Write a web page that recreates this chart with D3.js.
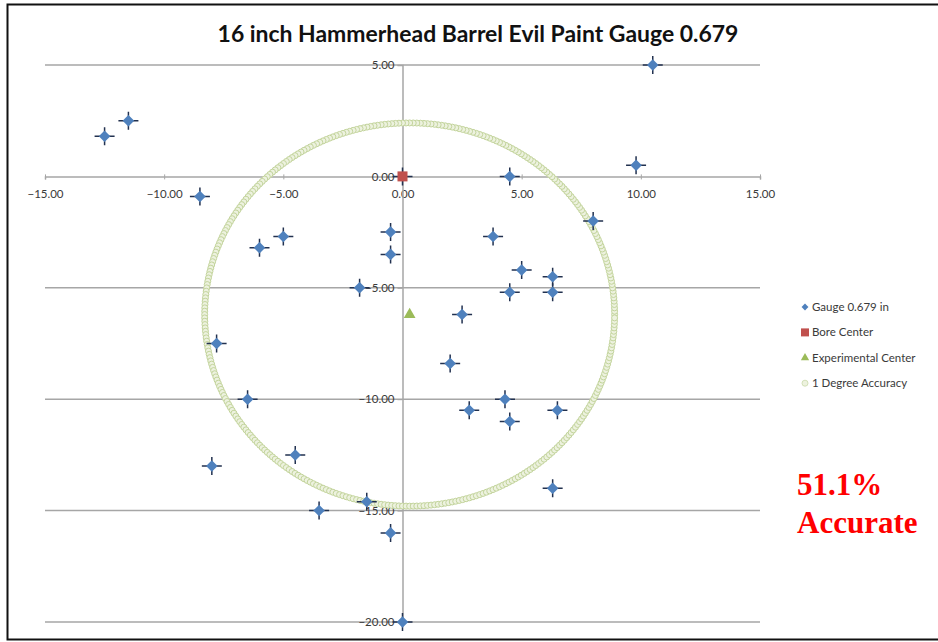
<!DOCTYPE html>
<meta charset="utf-8">
<style>
body { margin: 0; background: white; }
text { font-family: Lato, "Open Sans", sans-serif; }
</style>
<body>
<script src="https://d3js.org/d3.v7.min.js"></script>
<script>

// gauge 0.679 in shots (inches)
var gaugeX = [-12.5, -11.5, -8.5, -6.0, -5.0, -0.5, -0.5, 10.5, 9.8, 4.5, 8.0, 3.8,
              5.0, 6.3, 4.5, 6.3, 2.5, 2.0, 4.3, 2.8, 4.5, 6.5, -1.8, -7.8,
              -6.5, -4.5, -8.0, -3.5, -1.5, -0.5, 0.0, 6.3];
var gaugeY = [1.8, 2.5, -0.9, -3.2, -2.7, -2.5, -3.5, 5.0, 0.5, 0.0, -2.0, -2.7,
              -4.2, -4.5, -5.2, -5.2, -6.2, -8.4, -10.0, -10.5, -11.0, -10.5, -5.0, -7.5,
              -10.0, -12.5, -13.0, -15.0, -14.6, -16.0, -20.0, -14.0];

var boreCenter = [0, 0];
var expCenter = [0.3, -6.2];
var ringRadius = 8.6;
var ringMarkers = 360;

var xTicks = [-15, -10, -5, 0, 5, 10, 15];
var yTicks = [5, 0, -5, -10, -15, -20];

var legendLabels = ["Gauge 0.679 in", "Bore Center", "Experimental Center", "1 Degree Accuracy"];

var width = 938,
    height = 642;

var svg = d3.select("body").append("svg")
    .attr("width", width)
    .attr("height", height);

// outer frame
svg.append("rect")
    .attr("x", 7.5).attr("y", 4.5)
    .attr("width", 960).attr("height", 635)
    .attr("fill", "white")
    .attr("stroke", "#111")
    .attr("stroke-width", 2);

var x = d3.scaleLinear().domain([-15, 15]).range([45, 760]);
var y = d3.scaleLinear().domain([-20, 5]).range([622, 65]);

var grid = "#a6a6a6";

// horizontal gridlines
svg.append("g").selectAll("line")
    .data(yTicks.filter(function(d) { return d !== 0; }))
    .enter().append("line")
    .attr("x1", x(-15)).attr("x2", x(15))
    .attr("y1", function(d) { return y(d); })
    .attr("y2", function(d) { return y(d); })
    .attr("stroke", grid)
    .attr("stroke-width", 1.5);

// x axis through y=0
var xAxis = svg.append("g")
    .attr("transform", "translate(0," + y(0) + ")")
    .call(d3.axisBottom(x).tickValues(xTicks).tickSize(3).tickFormat(d3.format(".2f")));
xAxis.select(".domain").attr("stroke", grid).attr("stroke-width", 1.5);
xAxis.selectAll(".tick line").attr("stroke", grid).attr("y1", -2).attr("y2", 3);
xAxis.selectAll(".tick text")
    .attr("y", 13)
    .attr("fill", "#3a3a3a")
    .style("font-size", "11.5px")
    .style("font-family", "Lato, sans-serif");

// y axis through x=0
var yAxis = svg.append("g")
    .attr("transform", "translate(" + x(0) + ",0)")
    .call(d3.axisLeft(y).tickValues(yTicks).tickSize(5).tickFormat(d3.format(".2f")));
yAxis.select(".domain").attr("stroke", grid).attr("stroke-width", 1.5);
yAxis.selectAll(".tick line").attr("stroke", grid);
yAxis.selectAll(".tick text")
    .attr("x", -8)
    .attr("fill", "#3a3a3a")
    .style("font-size", "11.5px")
    .style("font-family", "Lato, sans-serif");

// 1 degree accuracy ring of markers
var ring = d3.range(ringMarkers).map(function(i) {
    var a = i / ringMarkers * 2 * Math.PI;
    return [expCenter[0] + ringRadius * Math.cos(a), expCenter[1] + ringRadius * Math.sin(a)];
});
svg.append("g").selectAll("circle")
    .data(ring)
    .enter().append("circle")
    .attr("cx", function(d) { return x(d[0]); })
    .attr("cy", function(d) { return y(d[1]); })
    .attr("r", 3)
    .attr("fill", "#edf2df")
    .attr("stroke", "#c3d49c")
    .attr("stroke-width", 1);

// gauge shots: error cross + diamond
var shots = gaugeX.map(function(d, i) { return [d, gaugeY[i]]; });
var sg = svg.append("g").selectAll("g")
    .data(shots)
    .enter().append("g")
    .attr("transform", function(d) { return "translate(" + x(d[0]) + "," + y(d[1]) + ")"; });
sg.append("path")
    .attr("d", "M-10,0H10M0,-9V9")
    .attr("stroke", "#22314f")
    .attr("stroke-width", 1.5);
sg.append("path")
    .attr("d", d3.symbol(d3.symbolDiamond2, 85))
    .attr("fill", "#4f81bd");

// bore center
var bc = svg.append("g")
    .attr("transform", "translate(" + x(boreCenter[0]) + "," + y(boreCenter[1]) + ")");
bc.append("path")
    .attr("d", "M-10,0H10M0,-9V9")
    .attr("stroke", "#22314f")
    .attr("stroke-width", 1.5);
bc.append("rect")
    .attr("x", -5).attr("y", -5).attr("width", 10).attr("height", 10)
    .attr("fill", "#c0504d");

// experimental center
svg.append("path")
    .attr("transform", "translate(" + x(expCenter[0]) + "," + y(expCenter[1]) + ")")
    .attr("d", d3.symbol(d3.symbolTriangle, 60))
    .attr("fill", "#9bbb59");

// title
var title = svg.append("text")
    .attr("x", 478).attr("y", 42)
    .attr("text-anchor", "middle")
    .attr("fill", "#111")
    .style("font-size", "19px")
    .style("font-weight", "bold")
    .text("16 inch Hammerhead Barrel Evil Paint Gauge 0.679");
var tw = title.node().getComputedTextLength();
title.style("font-size", (19 * 521 / tw).toFixed(2) + "px");

// legend
var lg = svg.append("g").attr("transform", "translate(805,307)");
var items = lg.selectAll("g")
    .data(legendLabels)
    .enter().append("g")
    .attr("transform", function(d, i) { return "translate(0," + i * 25.4 + ")"; });
items.append("text")
    .attr("x", 7).attr("dy", "0.35em")
    .attr("fill", "#3a3a3a")
    .style("font-size", "11.5px")
    .text(function(d) { return d; });
items.filter(function(d, i) { return i === 0; }).append("path")
    .attr("d", d3.symbol(d3.symbolDiamond2, 30)).attr("fill", "#4f81bd");
items.filter(function(d, i) { return i === 1; }).append("rect")
    .attr("x", -4).attr("y", -4).attr("width", 8).attr("height", 8).attr("fill", "#c0504d");
items.filter(function(d, i) { return i === 2; }).append("path")
    .attr("d", d3.symbol(d3.symbolTriangle, 30)).attr("fill", "#9bbb59");
items.filter(function(d, i) { return i === 3; }).append("circle")
    .attr("r", 3).attr("fill", "#edf2df").attr("stroke", "#d3e0b8");

// accuracy note
var note = svg.append("text")
    .attr("fill", "#ff0000")
    .style("font-family", "'Liberation Serif', 'Times New Roman', serif")
    .style("font-weight", "bold")
    .style("font-size", "31px");
note.append("tspan").attr("x", 797).attr("y", 495).text("51.1%");
note.append("tspan").attr("x", 797).attr("y", 533).text("Accurate");

</script>
</body>
</html>
